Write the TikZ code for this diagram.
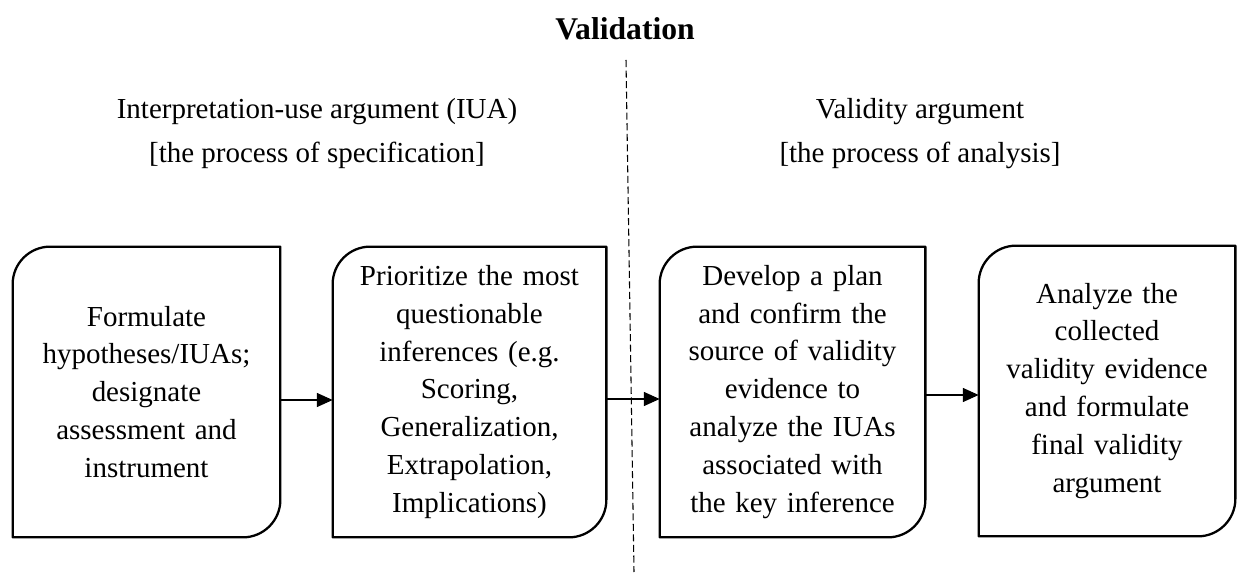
\documentclass[tikz,border=0pt]{standalone}
\usepackage{fontspec}
\setmainfont{Liberation Serif}
\usetikzlibrary{arrows.meta}

\begin{document}
\begin{tikzpicture}[
    stepbox/.style={inner sep=0pt, minimum height=5.8cm, align=center,
      font=\fontsize{16.5}{21.6}\selectfont},
    boxline/.style={line width=1.3pt, line join=round},
    flow/.style={-{Triangle[length=9pt, width=8pt]}, line width=0.6pt},
    headtext/.style={align=center, font=\fontsize{16.5}{25}\selectfont}
  ]
    \useasboundingbox (0, 0) rectangle (24.78, 11.46);

    % Titel und Trennlinie
    \node[font=\fontsize{18}{22}\selectfont\bfseries] (title) at (12.5, 10.88) {Validation};
    \coordinate (divtop) at (12.52, 10.26);
    \coordinate (divbot) at (12.68, 0.02);
    \draw[dash pattern=on 4pt off 2pt, line width=0.6pt] (divtop) -- (divbot);

    % linke und rechte Seite
    \node[headtext] (iua) at (6.34, 8.79) {Interpretation-use argument (IUA)\\ {[the process of specification]}};
    \node[headtext] (va) at (18.4, 8.79) {Validity argument\\ {[the process of analysis]}};

    % Schritte
    \node[stepbox, text width=5.34cm] (b1) at (2.93, 3.62)
      {Formulate\\ hypotheses/IUAs;\\ designate\\ assessment and\\ instrument};
    \node[stepbox, text width=5.46cm] (b2) at (9.39, 3.62)
      {Prioritize the most\\ questionable\\ inferences (e.g.\\ Scoring,\\ Generalization,\\ Extrapolation,\\ Implications)};
    \node[stepbox, text width=5.30cm] (b3) at (15.85, 3.62)
      {Develop a plan\\ and confirm the\\ source of validity\\ evidence to\\ analyze the IUAs\\ associated with\\ the key inference};
    \node[stepbox, text width=5.12cm] (b4) at (22.14, 3.64)
      {Analyze the\\ collected\\ validity evidence\\ and formulate\\ final validity\\ argument};

    % Rahmen: oben links und unten rechts gerundet
    \foreach \b in {b1, b2, b3, b4}
      \draw[boxline] (\b.south west) -- ([yshift=-0.75cm]\b.north west)
        arc[start angle=180, end angle=90, radius=0.75cm] -- (\b.north east)
        -- ([yshift=0.75cm]\b.south east)
        arc[start angle=0, end angle=-90, radius=0.75cm] -- cycle;

    % Pfeile
    \draw[flow] ([yshift=-0.16cm]b1.east) -- ([yshift=-0.16cm]b2.west);
    \draw[flow] ([yshift=-0.14cm]b2.east) -- ([yshift=-0.14cm]b3.west);
    \draw[flow] ([yshift=-0.06cm]b3.east) -- ([yshift=-0.06cm]b3.east -| b4.west);
\end{tikzpicture}
\end{document}
